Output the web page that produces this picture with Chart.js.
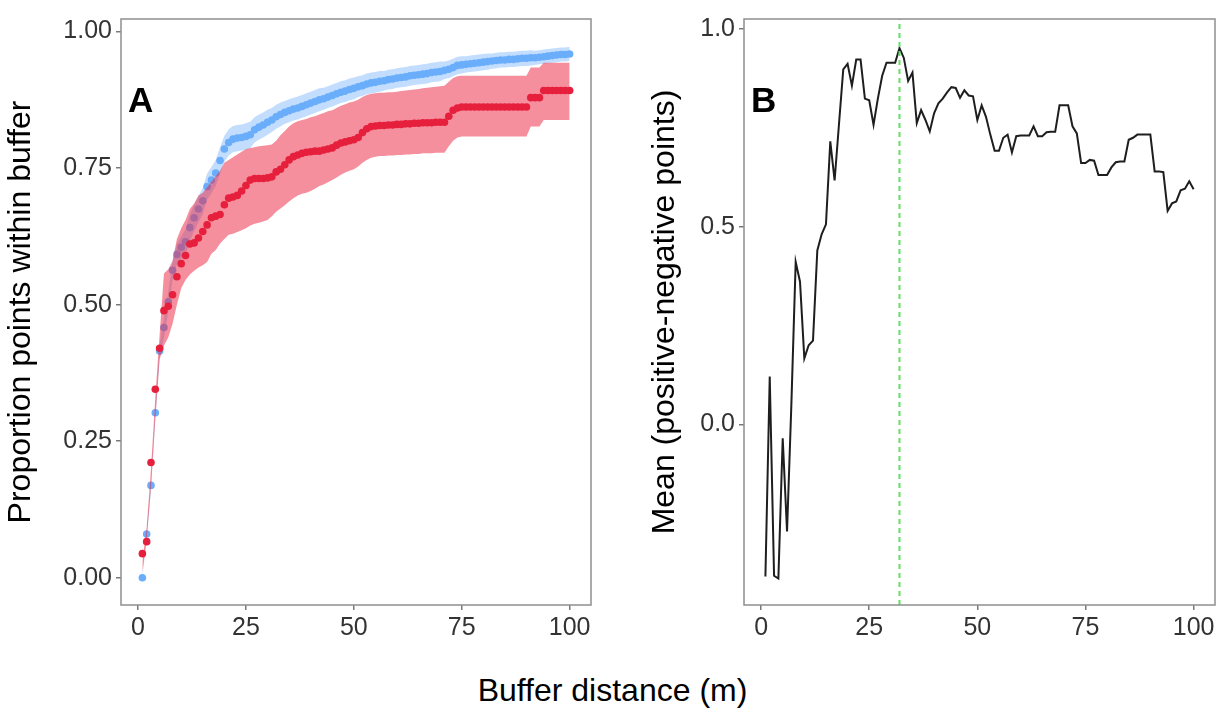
<!DOCTYPE html>
<html>
<head>
<meta charset="utf-8">
<script src="https://cdn.jsdelivr.net/npm/chart.js@4.4.1/dist/chart.umd.min.js"></script>
<style>
  body { margin: 0; background: #fff; width: 1225px; height: 713px; position: relative; overflow: hidden; font-family: "Liberation Sans", Arial, sans-serif; }
  #panelA { position: absolute; left: 0; top: 0; }
  #panelB { position: absolute; left: 615px; top: 0; }
  #xtitle { position: absolute; left: 0; top: 674px; width: 1225px; text-align: center; font-size: 32px; line-height: 32px; color: #000; }
</style>
</head>
<body>
<canvas id="panelA" width="600" height="650"></canvas>
<canvas id="panelB" width="610" height="650"></canvas>
<div id="xtitle">Buffer distance (m)</div>
<script>
// buffer distances (m)
const bufferDist = [
  1, 2, 3, 4, 5, 6, 7, 8, 9, 10, 11, 12, 13, 14, 15, 16, 17, 18, 19, 20,
  21, 22, 23, 24, 25, 26, 27, 28, 29, 30, 31, 32, 33, 34, 35, 36, 37, 38, 39, 40,
  41, 42, 43, 44, 45, 46, 47, 48, 49, 50, 51, 52, 53, 54, 55, 56, 57, 58, 59, 60,
  61, 62, 63, 64, 65, 66, 67, 68, 69, 70, 71, 72, 73, 74, 75, 76, 77, 78, 79, 80,
  81, 82, 83, 84, 85, 86, 87, 88, 89, 90, 91, 92, 93, 94, 95, 96, 97, 98, 99, 100
];

// panel A, blue: proportion within buffer + ribbon
const blueMean = [
  0.000, 0.080, 0.169, 0.302, 0.415, 0.458, 0.505, 0.563, 0.592, 0.605,
  0.615, 0.641, 0.659, 0.675, 0.690, 0.716, 0.728, 0.741, 0.764, 0.785,
  0.797, 0.803, 0.805, 0.806, 0.808, 0.811, 0.820, 0.825, 0.829, 0.834,
  0.838, 0.844, 0.848, 0.852, 0.855, 0.858, 0.860, 0.863, 0.866, 0.869,
  0.872, 0.875, 0.877, 0.880, 0.883, 0.886, 0.889, 0.891, 0.894, 0.896,
  0.899, 0.901, 0.904, 0.906, 0.907, 0.909, 0.910, 0.912, 0.913, 0.915,
  0.916, 0.917, 0.919, 0.920, 0.921, 0.922, 0.923, 0.925, 0.926, 0.927,
  0.929, 0.931, 0.934, 0.938, 0.939, 0.940, 0.941, 0.942, 0.943, 0.944,
  0.945, 0.946, 0.947, 0.948, 0.948, 0.949, 0.949, 0.950, 0.951, 0.951,
  0.952, 0.952, 0.953, 0.954, 0.955, 0.956, 0.957, 0.958, 0.958, 0.959
];
const blueLo = [
  0.000, 0.072, 0.160, 0.292, 0.403, 0.440, 0.487, 0.545, 0.573, 0.585,
  0.592, 0.617, 0.635, 0.651, 0.666, 0.692, 0.704, 0.717, 0.740, 0.761,
  0.773, 0.779, 0.781, 0.782, 0.784, 0.787, 0.797, 0.802, 0.806, 0.811,
  0.816, 0.822, 0.826, 0.831, 0.834, 0.837, 0.839, 0.842, 0.845, 0.848,
  0.851, 0.854, 0.857, 0.860, 0.863, 0.866, 0.869, 0.871, 0.874, 0.876,
  0.880, 0.882, 0.885, 0.887, 0.888, 0.890, 0.892, 0.894, 0.895, 0.897,
  0.898, 0.899, 0.901, 0.902, 0.903, 0.904, 0.905, 0.907, 0.908, 0.909,
  0.913, 0.915, 0.918, 0.922, 0.923, 0.925, 0.926, 0.927, 0.928, 0.929,
  0.930, 0.932, 0.933, 0.934, 0.934, 0.935, 0.935, 0.936, 0.937, 0.937,
  0.938, 0.939, 0.940, 0.941, 0.942, 0.943, 0.944, 0.945, 0.945, 0.946
];
const blueHi = [
  0.010, 0.088, 0.178, 0.312, 0.427, 0.476, 0.523, 0.581, 0.611, 0.625,
  0.638, 0.665, 0.683, 0.699, 0.714, 0.740, 0.752, 0.765, 0.788, 0.809,
  0.821, 0.827, 0.829, 0.830, 0.832, 0.835, 0.843, 0.848, 0.852, 0.857,
  0.860, 0.866, 0.870, 0.873, 0.876, 0.879, 0.881, 0.884, 0.887, 0.890,
  0.893, 0.896, 0.897, 0.900, 0.903, 0.906, 0.909, 0.911, 0.914, 0.916,
  0.918, 0.920, 0.923, 0.925, 0.926, 0.928, 0.928, 0.930, 0.931, 0.933,
  0.934, 0.935, 0.937, 0.938, 0.939, 0.940, 0.941, 0.943, 0.944, 0.945,
  0.945, 0.947, 0.950, 0.954, 0.955, 0.955, 0.956, 0.957, 0.958, 0.959,
  0.960, 0.960, 0.961, 0.962, 0.962, 0.963, 0.963, 0.964, 0.965, 0.965,
  0.966, 0.965, 0.966, 0.967, 0.968, 0.969, 0.970, 0.971, 0.971, 0.972
];

// panel A, red: proportion within buffer + ribbon
const redMean = [
  0.044, 0.066, 0.211, 0.345, 0.420, 0.489, 0.497, 0.518, 0.551, 0.575,
  0.590, 0.611, 0.613, 0.622, 0.634, 0.646, 0.659, 0.662, 0.665, 0.683,
  0.695, 0.697, 0.700, 0.708, 0.718, 0.728, 0.731, 0.731, 0.731, 0.732,
  0.734, 0.743, 0.748, 0.756, 0.765, 0.771, 0.774, 0.777, 0.779, 0.780,
  0.781, 0.781, 0.783, 0.785, 0.787, 0.792, 0.796, 0.798, 0.800, 0.802,
  0.806, 0.815, 0.822, 0.826, 0.827, 0.828, 0.828, 0.829, 0.829, 0.830,
  0.830, 0.831, 0.831, 0.832, 0.832, 0.833, 0.833, 0.833, 0.834, 0.834,
  0.834, 0.845, 0.856, 0.860, 0.862, 0.862, 0.862, 0.862, 0.862, 0.862,
  0.862, 0.862, 0.862, 0.862, 0.862, 0.862, 0.862, 0.862, 0.862, 0.862,
  0.879, 0.879, 0.879, 0.892, 0.892, 0.892, 0.892, 0.892, 0.892, 0.892
];
const redLo = [
  0.010, 0.070, 0.165, 0.290, 0.400, 0.425, 0.440, 0.465, 0.500, 0.530,
  0.545, 0.555, 0.562, 0.568, 0.572, 0.578, 0.593, 0.600, 0.612, 0.620,
  0.628, 0.630, 0.633, 0.636, 0.640, 0.645, 0.648, 0.650, 0.652, 0.655,
  0.662, 0.670, 0.676, 0.682, 0.689, 0.695, 0.700, 0.703, 0.705, 0.708,
  0.712, 0.717, 0.720, 0.724, 0.728, 0.733, 0.738, 0.742, 0.745, 0.748,
  0.753, 0.760, 0.765, 0.769, 0.771, 0.772, 0.772, 0.773, 0.773, 0.774,
  0.774, 0.775, 0.775, 0.776, 0.776, 0.777, 0.777, 0.777, 0.778, 0.778,
  0.778, 0.790, 0.800, 0.806, 0.808, 0.808, 0.808, 0.808, 0.808, 0.808,
  0.808, 0.808, 0.808, 0.808, 0.808, 0.808, 0.808, 0.808, 0.808, 0.808,
  0.826, 0.826, 0.826, 0.838, 0.838, 0.838, 0.838, 0.838, 0.838, 0.838
];
const redHi = [
  0.030, 0.092, 0.200, 0.330, 0.445, 0.557, 0.565, 0.580, 0.620, 0.640,
  0.655, 0.675, 0.685, 0.700, 0.705, 0.715, 0.725, 0.735, 0.745, 0.760,
  0.765, 0.770, 0.775, 0.780, 0.785, 0.787, 0.788, 0.790, 0.791, 0.792,
  0.793, 0.800, 0.810, 0.818, 0.826, 0.832, 0.836, 0.838, 0.840, 0.843,
  0.845, 0.848, 0.851, 0.854, 0.856, 0.860, 0.864, 0.867, 0.870, 0.872,
  0.875, 0.880, 0.884, 0.886, 0.887, 0.888, 0.888, 0.889, 0.889, 0.890,
  0.891, 0.892, 0.893, 0.894, 0.895, 0.896, 0.897, 0.898, 0.899, 0.900,
  0.901, 0.908, 0.915, 0.918, 0.919, 0.919, 0.919, 0.919, 0.919, 0.919,
  0.919, 0.919, 0.919, 0.919, 0.919, 0.919, 0.919, 0.919, 0.919, 0.919,
  0.934, 0.934, 0.934, 0.943, 0.943, 0.943, 0.943, 0.943, 0.943, 0.943
];

// panel B: mean (positive - negative points)
const meanDiff = [
  -0.385, 0.121, -0.383, -0.390, -0.035, -0.271, 0.050, 0.411, 0.361, 0.167,
  0.200, 0.212, 0.440, 0.481, 0.506, 0.716, 0.617, 0.758, 0.898, 0.912,
  0.857, 0.923, 0.923, 0.824, 0.820, 0.758, 0.824, 0.882, 0.915, 0.915,
  0.915, 0.952, 0.927, 0.869, 0.890, 0.762, 0.795, 0.770, 0.741, 0.787,
  0.812, 0.824, 0.840, 0.853, 0.851, 0.826, 0.845, 0.832, 0.830, 0.770,
  0.807, 0.778, 0.733, 0.692, 0.692, 0.725, 0.733, 0.688, 0.729, 0.731,
  0.731, 0.731, 0.754, 0.729, 0.729, 0.739, 0.740, 0.740, 0.807, 0.807,
  0.807, 0.754, 0.736, 0.661, 0.661, 0.669, 0.667, 0.631, 0.631, 0.631,
  0.650, 0.663, 0.665, 0.665, 0.720, 0.725, 0.733, 0.733, 0.733, 0.733,
  0.640, 0.640, 0.638, 0.540, 0.559, 0.564, 0.592, 0.596, 0.615, 0.595
];
const cutoff = 32; // best buffer distance (dashed line)

const xTicks = [0, 25, 50, 75, 100];
const yTicksA = [0, 0.25, 0.5, 0.75, 1];
const yTicksB = [0, 0.5, 1];

const pts = (arr) => bufferDist.map((d, i) => ({ x: d, y: arr[i] }));

const tickFont = { family: "'Liberation Sans', Arial, sans-serif", size: 25 };
const titleFont = { family: "'Liberation Sans', Arial, sans-serif", size: 32 };

// grey box round the plot + panel letter
const frame = {
  id: "frame",
  afterDraw(chart, args, opts) {
    const { ctx, chartArea: a } = chart;
    ctx.save();
    ctx.strokeStyle = "#8f8f8f";
    ctx.lineWidth = 1.5;
    ctx.strokeRect(a.left, a.top, a.right - a.left, a.bottom - a.top);
    ctx.fillStyle = "#000";
    ctx.font = "bold 35px 'Liberation Sans', Arial, sans-serif";
    ctx.textBaseline = "alphabetic";
    ctx.fillText(opts.letter, a.left + opts.dx, a.top + 93);
    ctx.restore();
  },
};

function xScale() {
  return {
    type: "linear",
    min: -3.95,
    max: 104.95,
    afterBuildTicks: (s) => { s.ticks = xTicks.map((v) => ({ value: v })); },
    afterFit: (s) => { s.height = 45; },
    grid: { drawOnChartArea: false, tickLength: 5, color: "#7a7a7a", lineWidth: 1.5 },
    border: { display: false },
    ticks: { font: tickFont, color: "#333", padding: 3, maxRotation: 0, autoSkip: false },
  };
}

function yScale(min, max, tickVals, digits, title, titlePad, width) {
  return {
    type: "linear",
    min: min,
    max: max,
    afterBuildTicks: (s) => { s.ticks = tickVals.map((v) => ({ value: v })); },
    afterFit: (s) => { s.width = width; },
    grid: { drawOnChartArea: false, tickLength: 5, color: "#7a7a7a", lineWidth: 1.5 },
    border: { display: false },
    ticks: { font: tickFont, color: "#333", padding: 4, callback: (v) => Number(v).toFixed(digits) },
    title: { display: true, text: title, font: titleFont, color: "#000", padding: { top: titlePad, bottom: 0 } },
  };
}

const ribbon = (arr, fill, color, order) => ({
  data: pts(arr),
  fill: fill,
  backgroundColor: color,
  borderColor: "transparent",
  borderWidth: 0,
  pointRadius: 0,
  order: order,
});

const dots = (arr, color, order) => ({
  data: pts(arr),
  showLine: false,
  pointRadius: 3.8,
  pointBorderWidth: 0,
  pointBackgroundColor: color,
  backgroundColor: color,
  order: order,
});

new Chart(document.getElementById("panelA"), {
  type: "line",
  data: {
    datasets: [
      ribbon(blueLo, false, "transparent", 7),
      ribbon(blueHi, 0, "rgba(110,175,250,0.42)", 6),
      dots(blueMean, "#6aaefb", 5),
      ribbon(redLo, false, "transparent", 4),
      ribbon(redHi, 3, "rgba(236,32,62,0.50)", 3),
      dots(redMean, "#e6203c", 1),
    ],
  },
  options: {
    responsive: false,
    animation: false,
    events: [],
    layout: { padding: { left: 0, top: 7, right: 9, bottom: 0 } },
    plugins: { legend: { display: false }, tooltip: { enabled: false }, frame: { letter: "A", dx: 7 } },
    scales: {
      x: xScale(),
      y: yScale(-0.05, 1.023, yTicksA, 2, "Proportion points within buffer", 2, 121),
    },
  },
  plugins: [frame],
});

new Chart(document.getElementById("panelB"), {
  type: "line",
  data: {
    datasets: [
      {
        data: [{ x: cutoff, y: -0.457 }, { x: cutoff, y: 1.0255 }],
        borderColor: "#5fe05f",
        borderWidth: 2,
        borderDash: [5, 4],
        pointRadius: 0,
        fill: false,
        order: 1,
      },
      {
        data: pts(meanDiff),
        borderColor: "#1e1e1e",
        borderWidth: 2,
        pointRadius: 0,
        fill: false,
        tension: 0,
        order: 2,
      },
    ],
  },
  options: {
    responsive: false,
    animation: false,
    events: [],
    layout: { padding: { left: 0, top: 7, right: 10, bottom: 0 } },
    plugins: { legend: { display: false }, tooltip: { enabled: false }, frame: { letter: "B", dx: 7 } },
    scales: {
      x: xScale(),
      y: yScale(-0.457, 1.0255, yTicksB, 1, "Mean (positive-negative points)", 31, 129),
    },
  },
  plugins: [frame],
});
</script>
</body>
</html>
